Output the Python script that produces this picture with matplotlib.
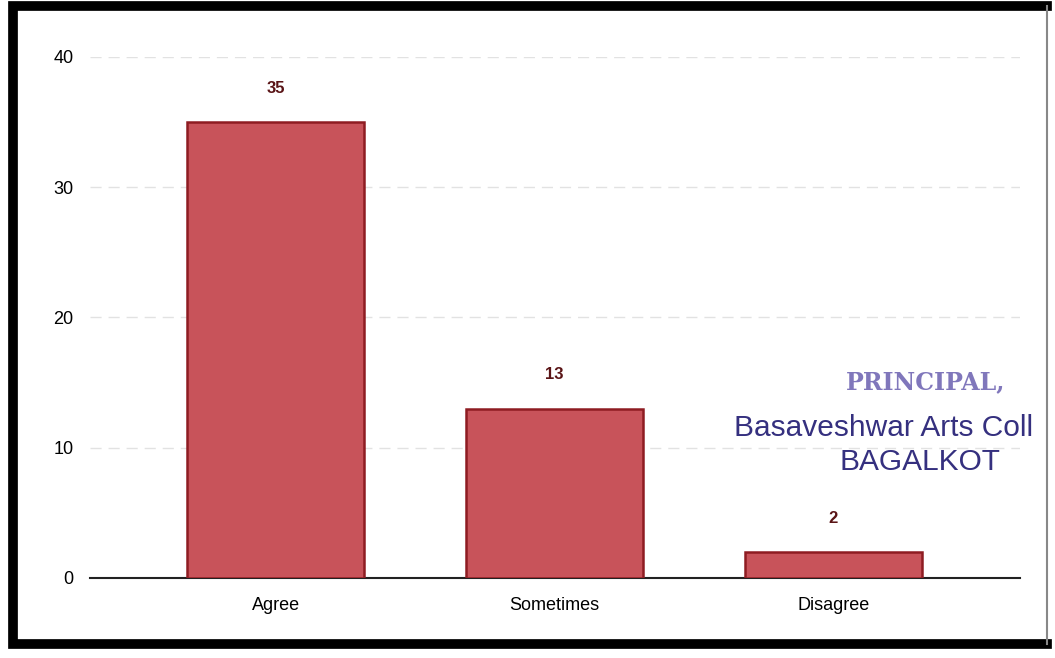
import matplotlib
matplotlib.use("Agg")
import matplotlib.pyplot as plt
from matplotlib.lines import Line2D

plt.rcParams['font.family'] = ['Liberation Sans', 'DejaVu Sans']

# data
categories = ["Agree", "Sometimes", "Disagree"]
responses = [35, 13, 2]
y_ticks = [0, 10, 20, 30, 40]

BAR_COLOR = "#c8535a"
EDGE_COLOR = "#8e1c22"
LABEL_COLOR = "#5a1416"
STAMP_COLOR = "#35307f"

fig = plt.figure(figsize=(10.55, 6.58), dpi=100)
ax = fig.add_axes([0.0853, 0.1216, 0.8817, 0.7918])

x = range(len(categories))
bars = ax.bar(x, responses, width=0.635, color=BAR_COLOR,
              edgecolor=EDGE_COLOR, linewidth=1.8, zorder=3)

for bar, val in zip(bars, responses):
    ax.annotate(str(val), (bar.get_x() + bar.get_width() / 2, bar.get_height()),
                xytext=(0, 19), textcoords="offset points", ha="center",
                va="bottom", fontsize=12, fontweight="bold", color=LABEL_COLOR)

ax.set_xlim(-0.667, 2.67)
ax.set_ylim(0, 40)
ax.set_yticks(y_ticks)
ax.set_xticks(list(x))
ax.set_xticklabels(categories, fontsize=13)
ax.tick_params(axis="y", length=0, labelsize=13, pad=12)
ax.tick_params(axis="x", length=0, pad=14)
ax.yaxis.grid(True, color="#e2e2e2", linestyle=(0, (8, 5)), linewidth=1.0, zorder=0)

for side in ["left", "right", "top"]:
    ax.spines[side].set_visible(False)
ax.spines["bottom"].set_linewidth(1.5)
ax.spines["bottom"].set_color("#222222")

# stamp text over the right part of the chart
fig.text(0.877, 0.408, "PRINCIPAL,", family="DejaVu Serif", fontsize=17,
         fontweight="bold", color="#6a5fb0", ha="center", alpha=0.85)
fig.text(0.696, 0.337, "Basaveshwar Arts Coll", fontsize=21.5, color=STAMP_COLOR,
         ha="left")
fig.text(0.872, 0.285, "BAGALKOT", fontsize=21.5, color=STAMP_COLOR, ha="center")

# scan frame: thick black on three sides, thin grey on the right
fig.add_artist(Line2D([0.992, 0.012, 0.012, 0.992], [0.991, 0.991, 0.022, 0.022],
                      transform=fig.transFigure, color="black", linewidth=7,
                      solid_joinstyle="miter"))
fig.add_artist(Line2D([0.992, 0.992], [0.022, 0.991], transform=fig.transFigure,
                      color="#888888", linewidth=1.5))

fig.savefig("out.png", dpi=100)
